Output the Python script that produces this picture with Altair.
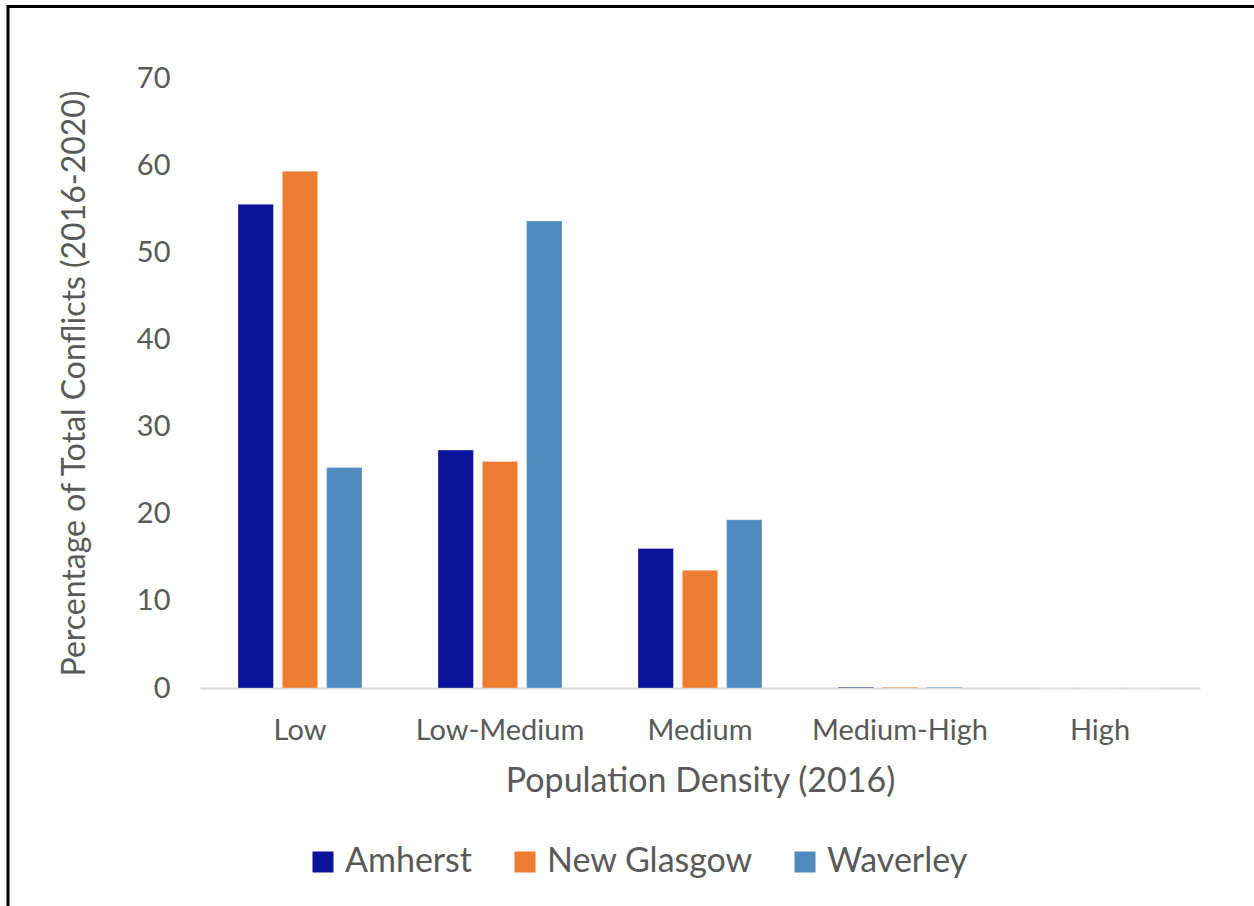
import altair as alt
import pandas as pd

categories = ["Low", "Low-Medium", "Medium", "Medium-High", "High"]
towns = ["Amherst", "New Glasgow", "Waverley"]
amherst = [55.5, 27.3, 16.0, 0.1, 0.0]
new_glasgow = [59.3, 26.0, 13.5, 0.1, 0.0]
waverley = [25.3, 53.6, 19.3, 0.1, 0.0]
colors = ["#0b139b", "#ed7d31", "#4f8bbf"]
y_ticks = [0, 10, 20, 30, 40, 50, 60, 70]

rows = []
for town, vals in zip(towns, [amherst, new_glasgow, waverley]):
    for cat, v in zip(categories, vals):
        rows.append({"density": cat, "town": town, "value": v})
df = pd.DataFrame(rows)

FONT = "Lato"
TXT = "#595959"

bars = alt.Chart(df).mark_bar(stroke="white", strokeWidth=0.6, strokeOpacity=0.5).encode(
    x=alt.X(
        "density:N",
        sort=categories,
        scale=alt.Scale(paddingInner=0.38, paddingOuter=0.19),
        axis=alt.Axis(
            title="Population Density (2016)",
            labelAngle=0,
            ticks=False,
            domainColor="#d9d9d9",
            domainWidth=2,
            labelFontSize=29,
            labelColor=TXT,
            labelFont=FONT,
            labelPadding=28,
            titleFontSize=34,
            titleFont=FONT,
            titleFontWeight="normal",
            titleColor=TXT,
            titlePadding=19,
        ),
    ),
    xOffset=alt.XOffset("town:N", sort=towns, scale=alt.Scale(paddingInner=0.2, paddingOuter=0)),
    y=alt.Y(
        "value:Q",
        scale=alt.Scale(domain=[0, 70], nice=False),
        axis=alt.Axis(
            title="Percentage of Total Conflicts (2016-2020)",
            values=y_ticks,
            grid=False,
            domain=False,
            ticks=False,
            labelFontSize=29,
            labelColor=TXT,
            labelFont=FONT,
            labelPadding=30,
            titleFontSize=32,
            titleFont=FONT,
            titleFontWeight="normal",
            titleColor=TXT,
            titlePadding=45,
        ),
    ),
    color=alt.Color(
        "town:N",
        sort=towns,
        scale=alt.Scale(domain=towns, range=colors),
        legend=alt.Legend(
            title=None,
            orient="none",
            direction="horizontal",
            legendX=106,
            legendY=767,
            symbolType="square",
            symbolSize=441,
            symbolStrokeWidth=0,
            labelFontSize=34,
            labelFont=FONT,
            labelColor=TXT,
            labelLimit=0,
            labelOffset=5,
            columnPadding=35,
        ),
    ),
)

frame = alt.Chart(pd.DataFrame({"a": [0]})).mark_rect(
    fill=None, stroke="black", strokeWidth=3
).encode(
    x=alt.value(-192),
    x2=alt.value(1100),
    y=alt.value(-71.5),
    y2=alt.value(900),
)

chart = alt.layer(bars, frame).properties(
    width=1000,
    height=610,
    autosize=alt.AutoSizeParams(type="none"),
    padding={"left": 200, "top": 78, "right": 54, "bottom": 218},
    background="white",
).configure_view(stroke=None)

chart.save("out.html", embed_options={"renderer": "svg", "actions": False})
